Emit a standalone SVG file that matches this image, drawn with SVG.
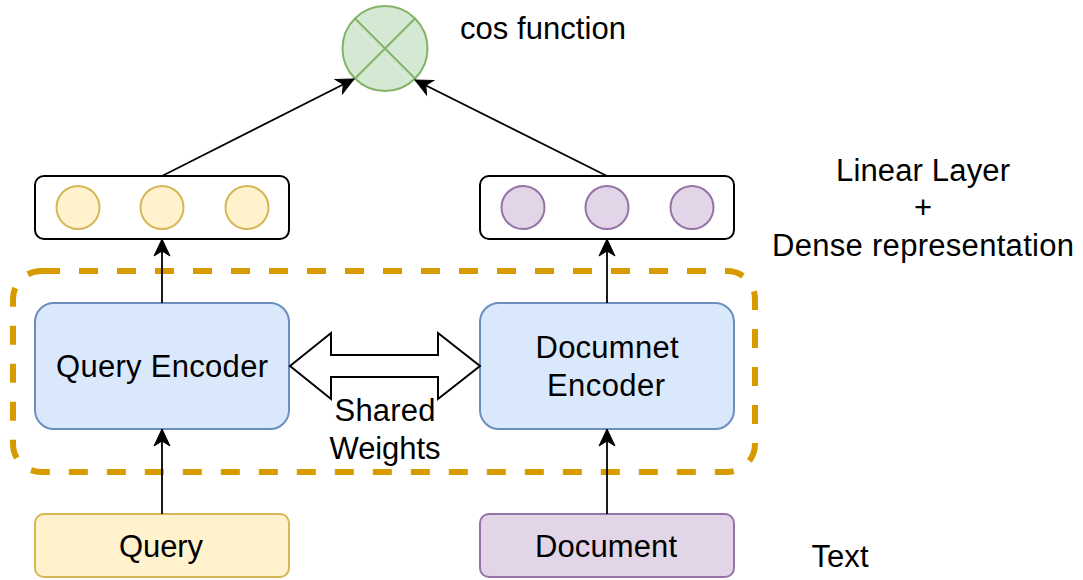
<svg xmlns="http://www.w3.org/2000/svg" width="1083" height="580" viewBox="0 0 1083 580">
<defs>
<style>
.t{font-family:"Liberation Sans",Arial,Helvetica,sans-serif;font-size:31px;fill:#000;text-anchor:middle}
.blue{fill:#dae8fc;stroke:#6c8ebf;stroke-width:2}
.yel{fill:#fff2cc;stroke:#d6b656;stroke-width:2}
.pur{fill:#e1d5e7;stroke:#9673a6;stroke-width:2}
.vec{fill:#fff;stroke:#000;stroke-width:2}
.edge{fill:none;stroke:#000;stroke-width:1.8;marker-end:url(#arr)}
</style>
<marker id="arr" markerUnits="userSpaceOnUse" markerWidth="20" markerHeight="20" viewBox="-18 -10 20 20" refX="0" refY="0" orient="auto">
<path d="M0,0 L-17,-8 L-12,0 L-17,8 Z" fill="#000" stroke="#000" stroke-width="1"/>
</marker>
</defs>
<rect width="1083" height="580" fill="#fff"/>
<g id="shared-container">
<rect x="13" y="271" width="742" height="201" rx="28" fill="none" stroke="#d79b00" stroke-width="6" stroke-dasharray="19 19"/>
</g>
<g id="cos">
<circle cx="385" cy="48.5" r="42.5" fill="#d5e8d4" stroke="#82b366" stroke-width="2"/>
<path d="M355,18.5 L415,78.5 M415,18.5 L355,78.5" stroke="#82b366" stroke-width="2"/>
</g>
<g id="query-vector">
<rect class="vec" x="35" y="176" width="254" height="63" rx="9"/>
<circle class="yel" cx="78" cy="207.5" r="21.5"/>
<circle class="yel" cx="162" cy="207.5" r="21.5"/>
<circle class="yel" cx="247" cy="207.5" r="21.5"/>
</g>
<g id="doc-vector">
<rect class="vec" x="480" y="176" width="254" height="63" rx="9"/>
<circle class="pur" cx="523" cy="207.5" r="21.5"/>
<circle class="pur" cx="607" cy="207.5" r="21.5"/>
<circle class="pur" cx="692" cy="207.5" r="21.5"/>
</g>
<g id="query-encoder">
<rect class="blue" x="35" y="303" width="254" height="126" rx="19"/>
<text class="t" x="162" y="377" textLength="212" lengthAdjust="spacing">Query Encoder</text>
</g>
<g id="doc-encoder">
<rect class="blue" x="480" y="303" width="254" height="126" rx="19"/>
<text class="t" x="607" y="358" textLength="143" lengthAdjust="spacing">Documnet</text>
<text class="t" x="606" y="396" textLength="118" lengthAdjust="spacing">Encoder</text>
</g>
<g id="query">
<rect class="yel" x="35" y="514" width="254" height="63" rx="9"/>
<text class="t" x="161" y="557" textLength="84" lengthAdjust="spacing">Query</text>
</g>
<g id="document">
<rect class="pur" x="480" y="514" width="254" height="63" rx="9"/>
<text class="t" x="606" y="557" textLength="142" lengthAdjust="spacing">Document</text>
</g>
<g id="shared-weights">
<path d="M290,366 L331,333 L331,355 L438,355 L438,333 L480,366 L438,399 L438,377 L331,377 L331,399 Z" fill="#fff" stroke="#000" stroke-width="2"/>
<text class="t" x="385" y="421" textLength="101" lengthAdjust="spacing">Shared</text>
<text class="t" x="385" y="459" textLength="111" lengthAdjust="spacing">Weights</text>
</g>
<g id="labels">
<text class="t" x="543" y="39" textLength="166" lengthAdjust="spacing">cos function</text>
<text class="t" x="923" y="181" textLength="174" lengthAdjust="spacing">Linear Layer</text>
<text class="t" x="923" y="218">+</text>
<text class="t" x="923" y="256" textLength="302" lengthAdjust="spacing">Dense representation</text>
<text class="t" x="840" y="567" textLength="57" lengthAdjust="spacing">Text</text>
</g>
<g id="connectors">
<path class="edge" d="M162,514 L162,429"/>
<path class="edge" d="M607,514 L607,429"/>
<path class="edge" d="M162,303 L162,239"/>
<path class="edge" d="M607,303 L607,239"/>
<path class="edge" d="M162,176 L354,79"/>
<path class="edge" d="M607,176 L415,80"/>
</g>
</svg>
